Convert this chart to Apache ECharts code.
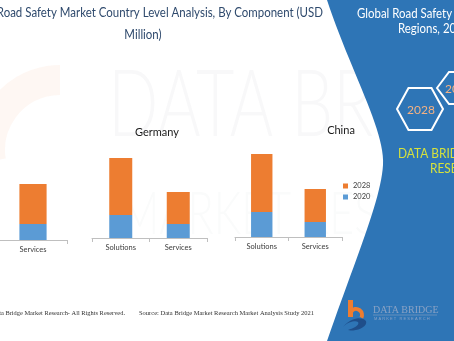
<!DOCTYPE html>
<html>
<head>
<meta charset="utf-8">
<script src="https://cdn.jsdelivr.net/npm/echarts@6/dist/echarts.min.js"></script>
<style>
  html, body { margin: 0; padding: 0; background: #ffffff; }
  #chart { width: 454px; height: 341px; }
</style>
</head>
<body>
<div id="chart"></div>
<script>
// Country panels (the first one runs off the left edge of the slide)
const countries = ['U.S.', 'Germany', 'China'];
const components = ['Solutions', 'Services'];
const years = ['2028', '2020'];

// USD Million, per component: 2020 base and the 2028 segment stacked on top
const values2020 = [
  [26, 16],
  [23, 14],
  [25, 15]
];
const values2028 = [
  [60, 40],
  [57, 32],
  [58, 33]
];

const BLUE = '#5b9bd5';
const ORANGE = '#ed7d31';
const PANEL = '#2e75b6';
const FONT = 'Lato, "Open Sans", sans-serif';

// Plot areas: left edge, width, bottom (axis line) for each country
const plotLeft = [-69, 92, 235];
const plotWidth = [136, 115, 107];
const plotBottom = [240, 238, 237];
const plotHeight = 100;

const grids = countries.map((c, i) => ({
  left: plotLeft[i],
  width: plotWidth[i],
  top: plotBottom[i] - plotHeight,
  height: plotHeight,
  outerBoundsMode: 'none',
  containLabel: false
}));

const xAxes = countries.map((c, i) => ({
  type: 'category',
  gridIndex: i,
  data: components,
  axisLine: { lineStyle: { color: '#bfbfbf', width: 1 } },
  axisTick: { show: true, length: 4, lineStyle: { color: '#bfbfbf' } },
  axisLabel: { fontSize: 7.5, color: '#404040', margin: 6, fontFamily: FONT }
}));

const yAxes = countries.map((c, i) => ({
  type: 'value', gridIndex: i, min: 0, max: 100, show: false
}));

const series = [];
countries.forEach((c, i) => {
  series.push({
    name: '2020', type: 'bar', stack: 'c' + i,
    xAxisIndex: i, yAxisIndex: i, barWidth: '40%',
    itemStyle: { color: BLUE }, data: values2020[i]
  });
  series.push({
    name: '2028', type: 'bar', stack: 'c' + i,
    xAxisIndex: i, yAxisIndex: i, barWidth: '40%',
    itemStyle: { color: ORANGE }, data: values2028[i]
  });
});

// Panel titles for the visible countries
const titlePos = { 'Germany': [157, 132], 'China': [341, 130] };

// sample a chain of cubic bezier segments into polygon points
function bezierChain(start, segs, steps) {
  const pts = [start];
  let p0 = start;
  segs.forEach(s => {
    const [c1, c2, p3] = s;
    for (let k = 1; k <= steps; k++) {
      const t = k / steps, u = 1 - t;
      pts.push([
        u * u * u * p0[0] + 3 * u * u * t * c1[0] + 3 * u * t * t * c2[0] + t * t * t * p3[0],
        u * u * u * p0[1] + 3 * u * u * t * c1[1] + 3 * u * t * t * c2[1] + t * t * t * p3[1]
      ]);
    }
    p0 = p3;
  });
  return pts;
}

const graphics = [];

// faint watermark behind the charts
graphics.push({
  type: 'text', z: -10, silent: true,
  scaleX: 0.72, originX: 108,
  style: {
    text: 'DATA BRIDGE', x: 108, y: 60,
    font: '300 92px Lato, sans-serif',
    fill: 'rgba(60,70,90,0.035)'
  }
});
graphics.push({
  type: 'text', z: -10, silent: true,
  scaleX: 0.72, originX: 120,
  style: {
    text: 'MARKET RESEARCH', x: 120, y: 185,
    font: '300 60px Lato, sans-serif',
    fill: 'rgba(60,70,90,0.022)'
  }
});
graphics.push({
  type: 'arc', z: -10, silent: true,
  shape: { cx: 60, cy: 150, r: 70, startAngle: Math.PI * 0.95, endAngle: Math.PI * 1.5 },
  style: { stroke: 'rgba(237,125,49,0.06)', lineWidth: 30, fill: null }
});

// main title
graphics.push({
  type: 'text', z: 20,
  scaleX: 0.85, originX: 323,
  style: {
    text: 'Global Road Safety Market Country Level Analysis, By Component (USD',
    x: 323, y: 13, align: 'right', verticalAlign: 'middle',
    font: '13.5px ' + FONT, fill: '#2f4a6d'
  }
});
graphics.push({
  type: 'text', z: 20,
  scaleX: 0.85, originX: 143,
  style: {
    text: 'Million)', x: 143, y: 35, align: 'center', verticalAlign: 'middle',
    font: '13.5px ' + FONT, fill: '#2f4a6d'
  }
});

Object.keys(titlePos).forEach(name => {
  graphics.push({
    type: 'text', z: 20,
    style: {
      text: name, x: titlePos[name][0], y: titlePos[name][1],
      align: 'center', verticalAlign: 'middle',
      font: '11px ' + FONT, fill: '#1a1a1a'
    }
  });
});

// right-hand blue panel with its curved edge
const panelEdge = bezierChain([327, 0], [
  [[350, 70], [385, 130], [383, 165]],
  [[381, 200], [355, 260], [327, 341]]
], 24);
graphics.push({
  type: 'polygon', z: 10, silent: true,
  shape: { points: panelEdge.concat([[454, 341], [454, 0]]) },
  style: { fill: PANEL }
});
graphics.push({
  type: 'text', z: 11,
  scaleX: 0.88, originX: 357,
  style: {
    text: 'Global Road Safety Market, By', x: 357, y: 14, verticalAlign: 'middle',
    font: '13px ' + FONT, fill: '#ffffff'
  }
});
graphics.push({
  type: 'text', z: 11,
  scaleX: 0.88, originX: 398,
  style: {
    text: 'Regions, 2021-2028', x: 398, y: 29, verticalAlign: 'middle',
    font: '13px ' + FONT, fill: '#ffffff'
  }
});

function hexagon(cx, cy, hw, hh) {
  const q = hw / 2;
  return [[cx - hw, cy], [cx - q, cy - hh], [cx + q, cy - hh],
          [cx + hw, cy], [cx + q, cy + hh], [cx - q, cy + hh]];
}
graphics.push({
  type: 'polygon', z: 11, silent: true,
  shape: { points: hexagon(461, 88, 24, 16) },
  style: { stroke: '#ffffff', lineWidth: 2, fill: null }
});
graphics.push({
  type: 'polygon', z: 11, silent: true,
  shape: { points: hexagon(420, 109, 23, 21) },
  style: { stroke: '#ffffff', lineWidth: 2, fill: PANEL }
});
graphics.push({
  type: 'text', z: 12,
  style: {
    text: '2028', x: 421, y: 110, align: 'center', verticalAlign: 'middle',
    font: '12px ' + FONT, fill: '#f4b183'
  }
});
graphics.push({
  type: 'text', z: 12,
  style: {
    text: '2021', x: 445, y: 89, verticalAlign: 'middle',
    font: '12px ' + FONT, fill: '#f4b183'
  }
});
graphics.push({
  type: 'text', z: 11,
  scaleX: 0.88, originX: 398,
  style: {
    text: 'DATA BRIDGE MARKET', x: 398, y: 154, verticalAlign: 'middle',
    font: '13.5px ' + FONT, fill: '#d6e23c'
  }
});
graphics.push({
  type: 'text', z: 11,
  scaleX: 0.88, originX: 430,
  style: {
    text: 'RESEARCH', x: 430, y: 169, verticalAlign: 'middle',
    font: '13.5px ' + FONT, fill: '#d6e23c'
  }
});

// footer notes
graphics.push({
  type: 'text', z: 20,
  style: {
    text: '\u00a9 Data Bridge Market Research- All Rights Reserved.', x: 125, y: 313,
    align: 'right', verticalAlign: 'middle',
    font: '6.4px "Liberation Serif", serif', fill: '#333333'
  }
});
graphics.push({
  type: 'text', z: 20,
  style: {
    text: 'Source: Data Bridge Market Research Market Analysis Study 2021', x: 139, y: 313,
    verticalAlign: 'middle',
    font: '6.5px "Liberation Serif", serif', fill: '#333333'
  }
});

// company mark in the lower right corner
graphics.push({
  type: 'rect', z: 12, silent: true,
  shape: { x: 348, y: 300, width: 5, height: 17 },
  style: { fill: ORANGE }
});
graphics.push({
  type: 'arc', z: 12, silent: true,
  shape: { cx: 356, cy: 315, r: 6, startAngle: -Math.PI * 0.8, endAngle: Math.PI * 0.15 },
  style: { stroke: ORANGE, lineWidth: 4, fill: null }
});
graphics.push({
  type: 'polygon', z: 12, silent: true,
  shape: {
    points: bezierChain([343, 327], [
      [[350, 318], [362, 316], [366, 321]],
      [[368, 327], [356, 332], [348, 330]],
      [[354, 328], [360, 325], [358, 322]],
      [[354, 320], [348, 322], [343, 327]]
    ], 10)
  },
  style: { fill: '#1f4e8a' }
});
graphics.push({
  type: 'text', z: 12,
  style: {
    text: 'DATA BRIDGE', x: 373, y: 310, verticalAlign: 'middle',
    font: '10px "Liberation Serif", serif', fill: '#8aa2c4'
  }
});
graphics.push({
  type: 'line', z: 12, silent: true,
  shape: { x1: 373, y1: 315, x2: 437, y2: 315 },
  style: { stroke: '#8aa2c4', lineWidth: 0.6 }
});
graphics.push({
  type: 'text', z: 12,
  style: {
    text: 'M A R K E T   R E S E A R C H', x: 374, y: 319, verticalAlign: 'middle',
    font: '4px "Liberation Sans", sans-serif', fill: '#8aa2c4'
  }
});

const chart = echarts.init(document.getElementById('chart'));
chart.setOption({
  animation: false,
  backgroundColor: '#ffffff',
  grid: grids,
  xAxis: xAxes,
  yAxis: yAxes,
  legend: {
    data: years,
    orient: 'vertical',
    left: 343, top: 182,
    padding: 0,
    itemWidth: 5, itemHeight: 5, itemGap: 3,
    icon: 'rect',
    textStyle: { fontSize: 7.5, color: '#404040', fontFamily: FONT }
  },
  series: series,
  graphic: graphics
});
</script>
</body>
</html>
